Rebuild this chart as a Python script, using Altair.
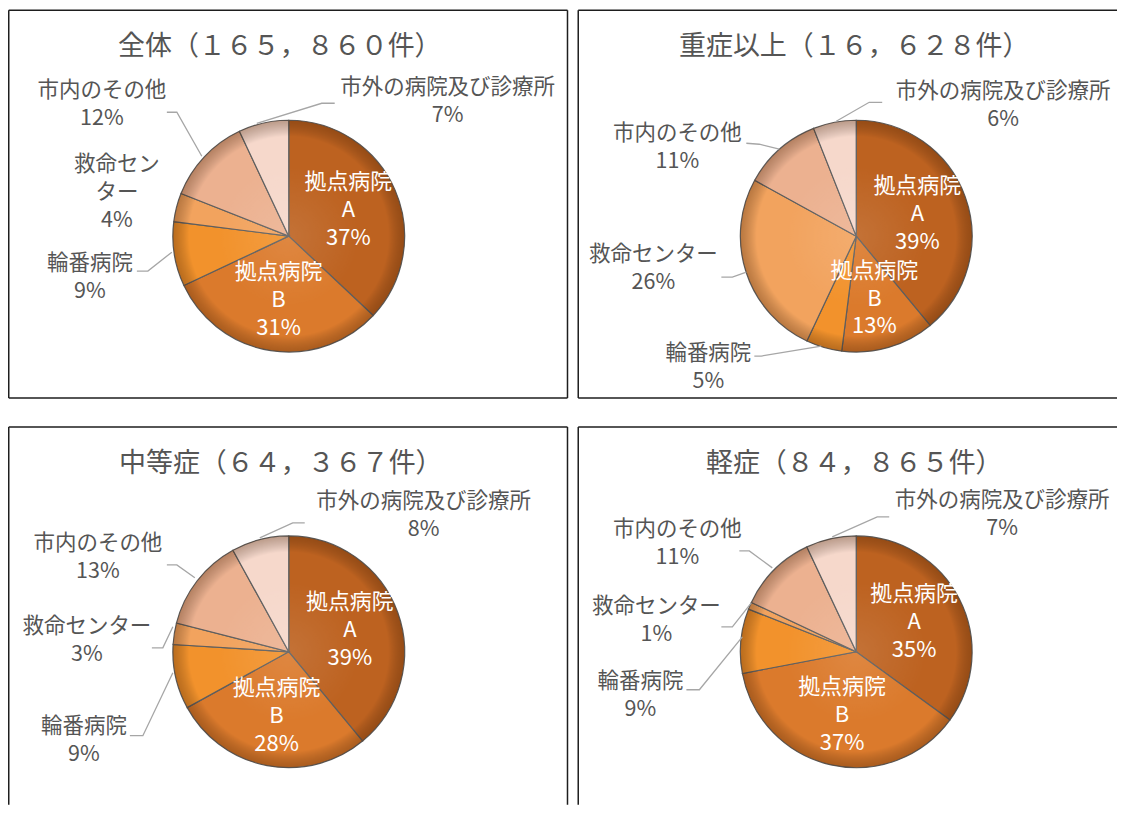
import math
import altair as alt
import pandas as pd

# ---------------- data ----------------
CATEGORIES = ["拠点病院A", "拠点病院B", "輪番病院", "救命センター", "市内のその他", "市外の病院及び診療所"]
PANEL_TITLES = ["全体（１６５，８６０件）", "重症以上（１６，６２８件）", "中等症（６４，３６７件）", "軽症（８４，８６５件）"]
SHARE_ALL = [37, 31, 9, 4, 12, 7]
SHARE_SEVERE = [39, 13, 5, 26, 11, 6]
SHARE_MODERATE = [39, 28, 9, 3, 13, 8]
SHARE_MILD = [35, 37, 9, 1, 11, 7]

# ---------------- style ----------------
COLORS = ["#BD6220", "#DB7A2C", "#F2922C", "#F2A35E", "#ECB190", "#F6D8CB"]
FONT = "Noto Sans CJK JP"
GRAY = "#555555"
LEADER = "#A6A6A6"
R = 116
LH = 28  # line spacing of labels

# layout of each panel (pixels inside the panel view); label = centre of the label block
LAYOUTS = [
    dict(w=561, h=392, center=(281, 228), title=(272, 39),
         borders=[(0.75, 2, 560, 2), (0.75, 390, 560, 390), (0.75, 2, 0.75, 390), (560, 2, 560, 390)],
         labels={2: (82, 269.5), 3: (109, 185), 4: (94, 97), 5: (440, 93.5)},
         wrap={3: "救命セン\nター"},
         leaders={5: [(327, 95), (314, 95), (249, 115)],
                  4: [(159, 104), (169, 104), (194, 148)],
                  2: [(129, 263), (140, 263), (164, 244)]}),
    dict(w=540, h=392, center=(279, 228), title=(277, 39),
         borders=[(0.75, 2, 540, 2), (0.75, 390, 540, 390), (0.75, 2, 0.75, 390)],
         labels={2: (131, 359.5), 3: (76, 261), 4: (100, 139.5), 5: (426, 98)},
         wrap={},
         leaders={5: [(305, 94), (292, 94), (259, 113)],
                  4: [(169, 135), (182, 136), (202, 141)],
                  3: [(144, 269), (155, 269), (169, 264)],
                  2: [(177, 348), (184, 348), (244, 338)]}),
    dict(w=561, h=380, center=(281, 227), title=(273, 39),
         borders=[(0.75, 2, 560, 2), (0.75, 2, 0.75, 380), (560, 2, 560, 380)],
         labels={2: (76, 316.5), 3: (79, 216), 4: (90, 133.5), 5: (416, 91.5)},
         wrap={},
         leaders={5: [(297, 98), (285, 98), (252, 113)],
                  4: [(159, 140), (169, 140), (187, 153)],
                  3: [(144, 223), (155, 223), (165, 202)],
                  2: [(122, 311), (135, 311), (165, 248)]}),
    dict(w=540, h=380, center=(279, 227), title=(277, 39),
         borders=[(0.75, 2, 540, 2), (0.75, 2, 0.75, 380)],
         labels={2: (63, 271.5), 3: (79, 196), 4: (100, 119), 5: (425, 90.5)},
         wrap={},
         leaders={5: [(312, 92), (300, 92), (255, 112)],
                  4: [(162, 126), (172, 126), (195, 143)],
                  3: [(144, 202), (155, 202), (174, 178)],
                  2: [(109, 265), (122, 265), (165, 212)]}),
]

SHADE = alt.RadialGradient(
    gradient="radial", x1=0.5, y1=0.5, r1=0, x2=0.5, y2=0.5, r2=0.5,
    stops=[
        alt.GradientStop(offset=0, color="rgba(255,255,255,0.10)"),
        alt.GradientStop(offset=0.6, color="rgba(255,255,255,0)"),
        alt.GradientStop(offset=0.86, color="rgba(0,0,0,0)"),
        alt.GradientStop(offset=1, color="rgba(70,30,0,0.33)"),
    ],
)


def make_panel(title, shares, lay):
    cx, cy = lay["center"]
    df = pd.DataFrame({"category": CATEGORIES, "value": shares, "idx": list(range(len(CATEGORIES)))})
    df["inner"] = [f"{c[:-1]}\n{c[-1]}\n{v}%" for c, v in zip(CATEGORIES, shares)]
    base = alt.Chart(df)

    pie = base.mark_arc(radius=R, stroke="#5E5E5E", strokeWidth=1.2).encode(
        theta=alt.Theta("value:Q", stack=True), order=alt.Order("idx:Q"),
        color=alt.Color("category:N", scale=alt.Scale(domain=CATEGORIES, range=COLORS), legend=None),
        x=alt.value(cx), y=alt.value(cy),
    )

    shade = alt.Chart(alt.Data(values=[{"k": 1}])).mark_arc(
        theta=0, theta2=2 * math.pi, radius=R, fill=SHADE, strokeWidth=0
    ).encode(x=alt.value(cx), y=alt.value(cy))

    # inside labels (only the two 拠点病院 slices), at the middle angle of each slice
    mids = base.transform_window(
        cum="sum(value)", sort=[alt.SortField("idx")], frame=[None, 0]
    ).transform_calculate(mid="datum.cum - datum.value / 2").transform_filter("datum.idx < 2")
    inner = mids.mark_text(
        radius=65, dy=-LH, color="white", font=FONT, fontSize=22, lineHeight=LH, lineBreak="\n",
        align="center", baseline="middle"
    ).encode(theta=alt.Theta("mid:Q", stack=False), text="inner:N", x=alt.value(cx), y=alt.value(cy))

    # outside labels
    rows = []
    for i, (lx, ly) in lay["labels"].items():
        name = lay["wrap"].get(i, CATEGORIES[i])
        n_lines = name.count("\n") + 2
        first = ly - (n_lines - 1) * LH / 2
        rows.append({"txt": f"{name}\n{shares[i]}%", "lx": lx, "ny": first})
    odf = pd.DataFrame(rows)
    outer = alt.Chart(odf).mark_text(
        color=GRAY, font=FONT, fontSize=21.5, lineHeight=LH, lineBreak="\n", align="center", baseline="middle"
    ).encode(x=alt.X("lx:Q", scale=None, axis=None), y=alt.Y("ny:Q", scale=None, axis=None), text="txt:N")

    pts = []
    for i, seg in lay["leaders"].items():
        for k, (px, py) in enumerate(seg):
            pts.append({"seg": i, "ord": k, "px": px, "py": py})
    leaders = alt.Chart(pd.DataFrame(pts)).mark_line(color=LEADER, strokeWidth=1.3).encode(
        x=alt.X("px:Q", scale=None, axis=None), y=alt.Y("py:Q", scale=None, axis=None),
        detail="seg:N", order="ord:Q",
    )

    bdf = pd.DataFrame([{"bx": a, "by": b, "bx2": c, "by2": d} for a, b, c, d in lay["borders"]])
    border = alt.Chart(bdf).mark_rule(color="#1E1E1E", strokeWidth=1.5).encode(
        x=alt.X("bx:Q", scale=None, axis=None), y=alt.Y("by:Q", scale=None, axis=None),
        x2="bx2:Q", y2="by2:Q",
    )

    tx, ty = lay["title"]
    ttl = alt.Chart(pd.DataFrame({"t": [title]})).mark_text(
        color=GRAY, font=FONT, fontSize=27, align="center", baseline="middle"
    ).encode(text="t:N", x=alt.value(tx), y=alt.value(ty))

    return alt.layer(border, pie, shade, inner, leaders, outer, ttl).properties(
        width=lay["w"], height=lay["h"]
    )


SHARES = [SHARE_ALL, SHARE_SEVERE, SHARE_MODERATE, SHARE_MILD]
panels = [make_panel(t, s, l) for t, s, l in zip(PANEL_TITLES, SHARES, LAYOUTS)]

chart = alt.vconcat(
    alt.hconcat(panels[0], panels[1], spacing=9),
    alt.hconcat(panels[2], panels[3], spacing=9),
    spacing=25,
).properties(padding=0, background="white").configure_view(stroke=None)

chart.save("out.html", embed_options={"renderer": "svg", "actions": False})
